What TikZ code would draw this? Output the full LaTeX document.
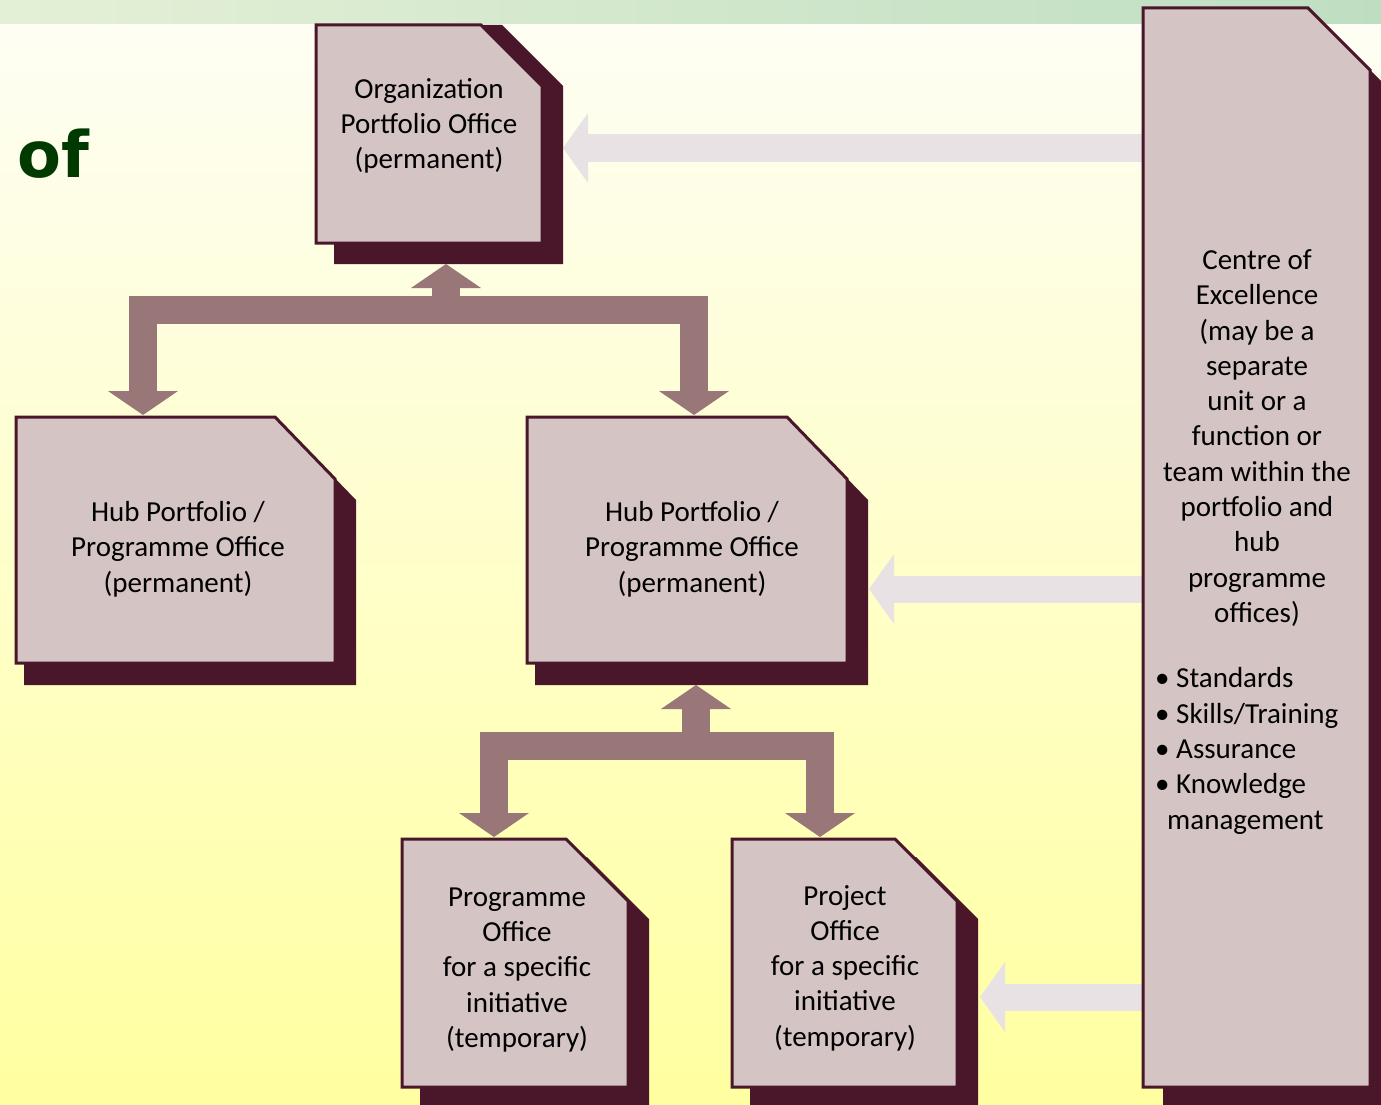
\documentclass[tikz,border=0pt]{standalone}
\usepackage{fontspec}
\setmainfont{Carlito}
\newfontfamily\titlefont{DejaVu Sans}
\usepackage{xcolor}
\usetikzlibrary{arrows.meta}
\definecolor{bandleft}{RGB}{228,240,214}
\definecolor{bandright}{RGB}{190,222,194}
\definecolor{papertop}{RGB}{254,254,244}
\definecolor{paperbottom}{RGB}{255,255,160}
\definecolor{boxface}{RGB}{212,196,196}
\definecolor{boxedge}{RGB}{74,22,42}
\definecolor{linkcol}{RGB}{153,119,121}
\definecolor{feedcol}{RGB}{232,226,228}
\definecolor{titlegreen}{RGB}{0,58,0}

\begin{document}
\begin{tikzpicture}[x=1pt, y=-1pt,
  officeface/.style={fill=boxface, draw=boxedge, line width=3pt, line join=miter},
  officeshadow/.style={fill=boxedge},
  officetext/.style={inner sep=0pt, align=center, font=\fontsize{29}{35.3}\selectfont},
  linkpipe/.style={draw=linkcol, line width=28pt, line join=miter},
  linktip/.style={-{Triangle[length=24pt,width=70pt,line width=0pt]}},
  feedpipe/.style={draw=feedcol, line width=27pt, -{Triangle[length=25pt,width=70pt,line width=0pt]}}]
\path[use as bounding box] (0,0) rectangle (1381,1105);
\clip (0,0) rectangle (1381,1105);
\shade[left color=bandleft, right color=bandright] (0,0) rectangle (1381,25);
\shade[top color=papertop, bottom color=paperbottom] (0,25) rectangle (1381,1105);

\coordinate (hubltip) at (143,415);
\coordinate (hubmtip) at (694,415);
\coordinate (orgfork) at (446,310);
\coordinate (orgfoot) at (446,264);
\coordinate (progtip) at (494,837);
\coordinate (projtip) at (820,837);
\coordinate (hubmfork) at (696,746);
\coordinate (hubmfoot) at (696,685);
\coordinate (coetop) at (1145,148);
\coordinate (orgport) at (563,148);
\coordinate (coemid) at (1145,589);
\coordinate (hubmport) at (869,589);
\coordinate (coelow) at (1145,997);
\coordinate (projport) at (980,997);

\draw[linkpipe, {Triangle[length=24pt,width=70pt,line width=0pt]}-{Triangle[length=24pt,width=70pt,line width=0pt]}] (hubltip) |- (orgfork) -| (hubmtip);
\draw[linkpipe, linktip] (orgfork) -- (orgfoot);
\draw[linkpipe, {Triangle[length=24pt,width=70pt,line width=0pt]}-{Triangle[length=24pt,width=70pt,line width=0pt]}] (progtip) |- (hubmfork) -| (projtip);
\draw[linkpipe, linktip] (hubmfork) -- (hubmfoot);
\draw[feedpipe] (coetop) -- (orgport);
\draw[feedpipe] (coemid) -- (hubmport);
\draw[feedpipe] (coelow) -- (projport);

\fill[officeshadow] (334,25) -- (502,25) -- (563,86) -- (563,264) -- (334,264) -- cycle;
\draw[officeface] (316,25) -- (481,25) -- (542,86) -- (542,243) -- (316,243) -- cycle;
\fill[officeshadow] (24,438) -- (296,438) -- (356,500) -- (356,685) -- (24,685) -- cycle;
\draw[officeface] (16,417) -- (275,417) -- (335,479) -- (335,663) -- (16,663) -- cycle;
\fill[officeshadow] (535,438) -- (808,438) -- (868,500) -- (868,685) -- (535,685) -- cycle;
\draw[officeface] (527,417) -- (787,417) -- (847,479) -- (847,663) -- (527,663) -- cycle;
\fill[officeshadow] (420,857) -- (587,857) -- (649,919) -- (649,1110) -- (420,1110) -- cycle;
\draw[officeface] (402,839) -- (566,839) -- (628,901) -- (628,1087) -- (402,1087) -- cycle;
\fill[officeshadow] (750,857) -- (916,857) -- (978,919) -- (978,1110) -- (750,1110) -- cycle;
\draw[officeface] (732,839) -- (895,839) -- (957,901) -- (957,1087) -- (732,1087) -- cycle;
\fill[officeshadow] (1163,29) -- (1329,29) -- (1391,91) -- (1391,1110) -- (1163,1110) -- cycle;
\draw[officeface] (1143,8) -- (1308,8) -- (1370,70) -- (1370,1087) -- (1143,1087) -- cycle;

\node[anchor=base west, text=titlegreen, font=\titlefont\bfseries\fontsize{64}{64}\selectfont] (heading) at (14,177) {of};
\node[officetext] (org) at (429,126) {Organization\\Portfolio Office\\(permanent)};
\node[officetext] (hubl) at (178,549) {Hub Portfolio /\\Programme Office\\(permanent)};
\node[officetext] (hubm) at (692,549) {Hub Portfolio /\\Programme Office\\(permanent)};
\node[officetext] (prog) at (517,970) {Programme\\Office\\for a specific\\initiative\\(temporary)};
\node[officetext] (proj) at (845,968) {Project\\Office\\for a specific\\initiative\\(temporary)};
\node[officetext] (coe) at (1257,438) {Centre of\\Excellence\\(may be a\\separate\\unit or a\\function or\\team within the\\portfolio and\\hub\\programme\\offices)};
\node[officetext, align=left, anchor=west] (coelist) at (1155,751) {• Standards\\• Skills/Training\\• Assurance\\• Knowledge\\\hspace*{12pt}management};
\end{tikzpicture}
\end{document}
